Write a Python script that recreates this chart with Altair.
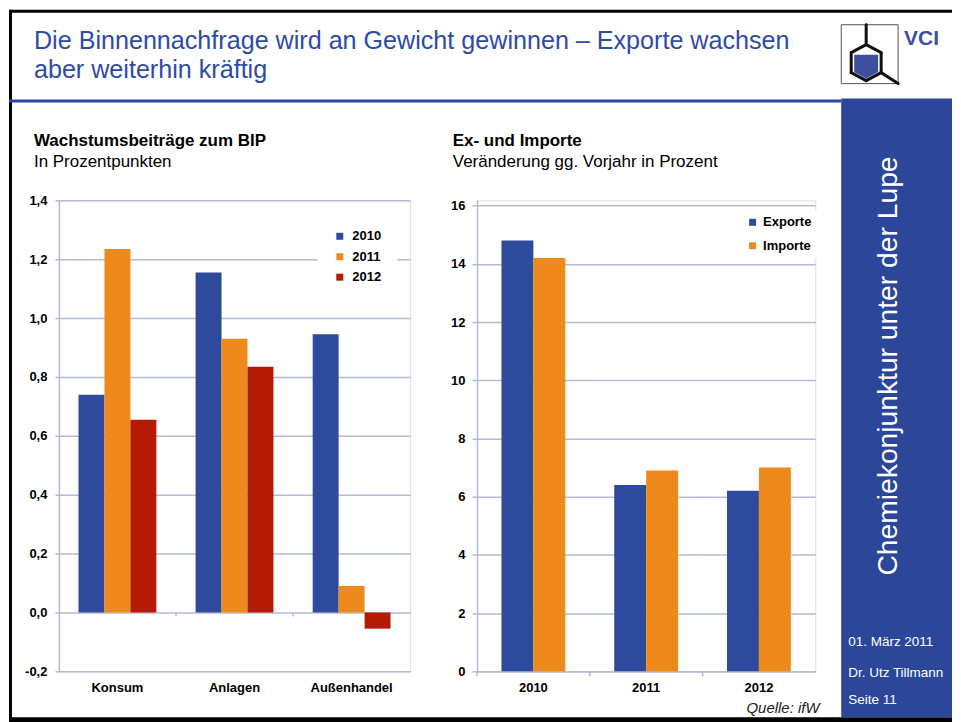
import altair as alt
import pandas as pd

# ---------------- data ----------------
left_categories = ["Konsum", "Anlagen", "Außenhandel"]
left_years = ["2010", "2011", "2012"]
beitrag_2010 = [0.74, 1.155, 0.945]
beitrag_2011 = [1.235, 0.93, 0.09]
beitrag_2012 = [0.655, 0.835, -0.055]
left_ticks = [-0.2, 0.0, 0.2, 0.4, 0.6, 0.8, 1.0, 1.2, 1.4]

right_years = ["2010", "2011", "2012"]
right_series = ["Exporte", "Importe"]
exporte = [14.8, 6.4, 6.2]
importe = [14.2, 6.9, 7.0]
right_ticks = [0, 2, 4, 6, 8, 10, 12, 14, 16]

header_lines = ["Die Binnennachfrage wird an Gewicht gewinnen – Exporte wachsen",
                "aber weiterhin kräftig"]
left_title = "Wachstumsbeiträge zum BIP"
left_subtitle = "In Prozentpunkten"
right_title = "Ex- und Importe"
right_subtitle = "Veränderung gg. Vorjahr in Prozent"
sidebar_text = "Chemiekonjunktur unter der Lupe"
footer_lines = ["01. März 2011", "Dr. Utz Tillmann", "Seite 11"]
source_text = "Quelle: ifW"
logo_text = "VCI"

# ---------------- styling ----------------
FONT = "Liberation Sans"
BLUE = "#2E4A9C"
ORANGE = "#EE8A1B"
RED = "#B51A04"
GRID = "#B5BAD6"
SIDEBAR = "#2C4799"
TITLEBLUE = "#2E4BA6"

left_rows = []
for vals, yr in zip([beitrag_2010, beitrag_2011, beitrag_2012], left_years):
    for cat, v in zip(left_categories, vals):
        left_rows.append({"Kategorie": cat, "Jahr": yr, "Wert": v})
left_df = pd.DataFrame(left_rows)

right_rows = []
for vals, s in zip([exporte, importe], right_series):
    for yr, v in zip(right_years, vals):
        right_rows.append({"Jahr": yr, "Serie": s, "Wert": v})
right_df = pd.DataFrame(right_rows)

dummy = pd.DataFrame({"d": [0]})

# origin of left plot area in page pixels
OX, OY = 58, 199
RIGHT_EDGE = 953
BOTTOM_EDGE = 722


def px(x):
    return x - OX


def py(y):
    return y - OY


def vrect(x1, x2, y1, y2, color, **kw):
    return alt.Chart(dummy).mark_rect(color=color, **kw).encode(
        x=alt.value(px(x1)), x2=alt.value(px(x2)),
        y=alt.value(py(y1)), y2=alt.value(py(y2)))


def vtext(text, x, y, size, color="#000", weight="normal", align="left",
          baseline="alphabetic", **kw):
    return alt.Chart(dummy).mark_text(
        text=text, font=FONT, fontSize=size, color=color, fontWeight=weight,
        align=align, baseline=baseline, **kw).encode(
        x=alt.value(px(x)), y=alt.value(py(y)))


def vline(x1, y1, x2, y2, color="#111", width=3):
    return alt.Chart(dummy).mark_rule(color=color, strokeWidth=width, strokeCap="round").encode(
        x=alt.value(px(x1)), y=alt.value(py(y1)),
        x2=alt.value(px(x2)), y2=alt.value(py(y2)))


decor = [
    vrect(8, RIGHT_EDGE, 8, 11, "#000"),                       # top border
    vrect(8, 11, 8, BOTTOM_EDGE, "#000"),                      # left border
    vrect(8, RIGHT_EDGE, BOTTOM_EDGE - 5, BOTTOM_EDGE, "#000"),  # bottom border
    vrect(8, 842, 98, 101, SIDEBAR),                           # header line
    vrect(842, RIGHT_EDGE, 97, BOTTOM_EDGE - 5, SIDEBAR),      # sidebar
    vtext(header_lines[0], 33, 47, 25.2, TITLEBLUE),
    vtext(header_lines[1], 33, 76, 25.2, TITLEBLUE),
    vtext(left_title, 33, 145, 17, weight="bold"),
    vtext(left_subtitle, 33, 165.5, 17),
    vtext(right_title, 452.7, 145, 17, weight="bold"),
    vtext(right_subtitle, 452.7, 165.5, 17),
    vtext(sidebar_text, 890, 365, 28.3, "#FFFFFF", align="center", baseline="middle", angle=270),
    vtext(footer_lines[0], 849, 642, 13.5, "#FFFFFF", baseline="middle"),
    vtext(footer_lines[1], 849, 673, 13.5, "#FFFFFF", baseline="middle"),
    vtext(footer_lines[2], 849, 700, 13.5, "#FFFFFF", baseline="middle"),
    vtext(source_text, 747, 708, 15, "#222", baseline="middle", fontStyle="italic"),
    vtext(logo_text, 905, 43, 21, "#3D4FA0", weight="bold"),
    # logo
    alt.Chart(dummy).mark_rect(fillOpacity=0, stroke="#555", strokeWidth=1).encode(
        x=alt.value(px(842)), x2=alt.value(px(899)), y=alt.value(py(23)), y2=alt.value(py(82))),
    alt.Chart(dummy).mark_point(
        shape="M -1 -1 L 1 -1 L 1 0.45 L 0 1 L -1 0.45 Z", filled=True, size=576,
        color="#3D50A0", opacity=1).encode(x=alt.value(px(867)), y=alt.value(py(65))),
    vline(867, 23, 867, 43),
    vline(867, 43, 882, 51),
    vline(882, 51, 882, 71),
    vline(882, 71, 867, 79),
    vline(867, 79, 852, 71),
    vline(852, 71, 852, 51),
    vline(852, 51, 867, 43),
    vline(882, 71, 899, 82),
]

label_expr = "replace(replace(format(datum.value, '.1f'), '.', ','), '\u2212', '-')"

x_left_axis = alt.Axis(domain=False, ticks=False, labelAngle=0, labelPadding=10,
                       labelFontSize=13, labelFontWeight="bold", labelColor="#000",
                       grid=False, labelFont=FONT)
y_axis_common = dict(grid=True, gridColor=GRID, gridWidth=1.5, domainColor=GRID,
                     domainWidth=1.5, tickColor=GRID, tickWidth=1.5,
                     labelFontSize=13, labelFontWeight="bold", labelColor="#000",
                     labelFont=FONT)

bars_left = alt.Chart(left_df).mark_bar().encode(
    x=alt.X("Kategorie:N", sort=left_categories, title=None,
            scale=alt.Scale(paddingInner=0, paddingOuter=0), axis=x_left_axis),
    xOffset=alt.XOffset("Jahr:N", sort=left_years,
                        scale=alt.Scale(paddingInner=0, paddingOuter=0.756)),
    y=alt.Y("Wert:Q", title=None, scale=alt.Scale(domain=[-0.2, 1.4], nice=False),
            axis=alt.Axis(values=left_ticks, labelExpr=label_expr, tickSize=4,
                          labelPadding=8, **y_axis_common)),
    color=alt.Color("Jahr:N", sort=left_years,
                    scale=alt.Scale(domain=left_years, range=[BLUE, ORANGE, RED]),
                    legend=alt.Legend(title=None, orient="none", legendX=259, legendY=13.5,
                                      fillColor="white", padding=16, symbolType="square",
                                      symbolSize=49, symbolStrokeWidth=0,
                                      labelFontSize=13, labelFontWeight="bold",
                                      labelFont=FONT, labelColor="#000",
                                      rowPadding=6.5, labelOffset=6)),
)

ticks_left = alt.Chart(pd.DataFrame({"Kategorie": left_categories[1:]})).mark_rule(
    color=GRID, strokeWidth=1.5).encode(
    x=alt.X("Kategorie:N", sort=left_categories, title=None, bandPosition=0,
            scale=alt.Scale(paddingInner=0, paddingOuter=0), axis=x_left_axis),
    y=alt.YDatum(0, title=None),
    y2=alt.value(472 * 1.4 / 1.6 + 4),
)

left_chart = alt.layer(*decor, bars_left, ticks_left).properties(width=352, height=472)

RTOP = 16.18
x_right_axis = alt.Axis(domain=True, domainColor=GRID, domainWidth=1.5, ticks=False,
                        labelAngle=0, labelPadding=10, labelFontSize=13,
                        labelFontWeight="bold", labelColor="#000", grid=False, labelFont=FONT)

bars_right = alt.Chart(right_df).mark_bar().encode(
    x=alt.X("Jahr:N", sort=right_years, title=None,
            scale=alt.Scale(paddingInner=0, paddingOuter=0), axis=x_right_axis),
    xOffset=alt.XOffset("Serie:N", sort=right_series,
                        scale=alt.Scale(paddingInner=0, paddingOuter=0.766)),
    y=alt.Y("Wert:Q", title=None, scale=alt.Scale(domain=[0, RTOP], nice=False),
            axis=alt.Axis(values=right_ticks, format="d", tickSize=5, labelPadding=7,
                          **y_axis_common)),
    color=alt.Color("Serie:N", sort=right_series,
                    scale=alt.Scale(domain=right_series, range=[BLUE, ORANGE]),
                    legend=alt.Legend(title=None, orient="none", legendX=264.7, legendY=10.5,
                                      fillColor="white", padding=5, symbolType="square",
                                      symbolSize=49, symbolStrokeWidth=0,
                                      labelFontSize=13, labelFontWeight="bold",
                                      labelFont=FONT, labelColor="#000",
                                      rowPadding=9.5, labelOffset=4)),
)

ticks_right = alt.Chart(pd.DataFrame({"Jahr": right_years})).mark_rule(
    color=GRID, strokeWidth=1.5).encode(
    x=alt.X("Jahr:N", sort=right_years, title=None, bandPosition=0,
            scale=alt.Scale(paddingInner=0, paddingOuter=0), axis=x_right_axis),
    y=alt.YDatum(0, title=None),
    y2=alt.value(472 + 5),
)

right_chart = alt.layer(bars_right, ticks_right).properties(width=339, height=472)

chart = alt.hconcat(left_chart, right_chart, spacing=67).properties(
    bounds="flush", padding=0, background="white"
).resolve_scale(color="independent", xOffset="independent").configure_view(
    stroke=None).configure(font=FONT)

chart.save("out.html", embed_options={"renderer": "svg", "actions": False})
